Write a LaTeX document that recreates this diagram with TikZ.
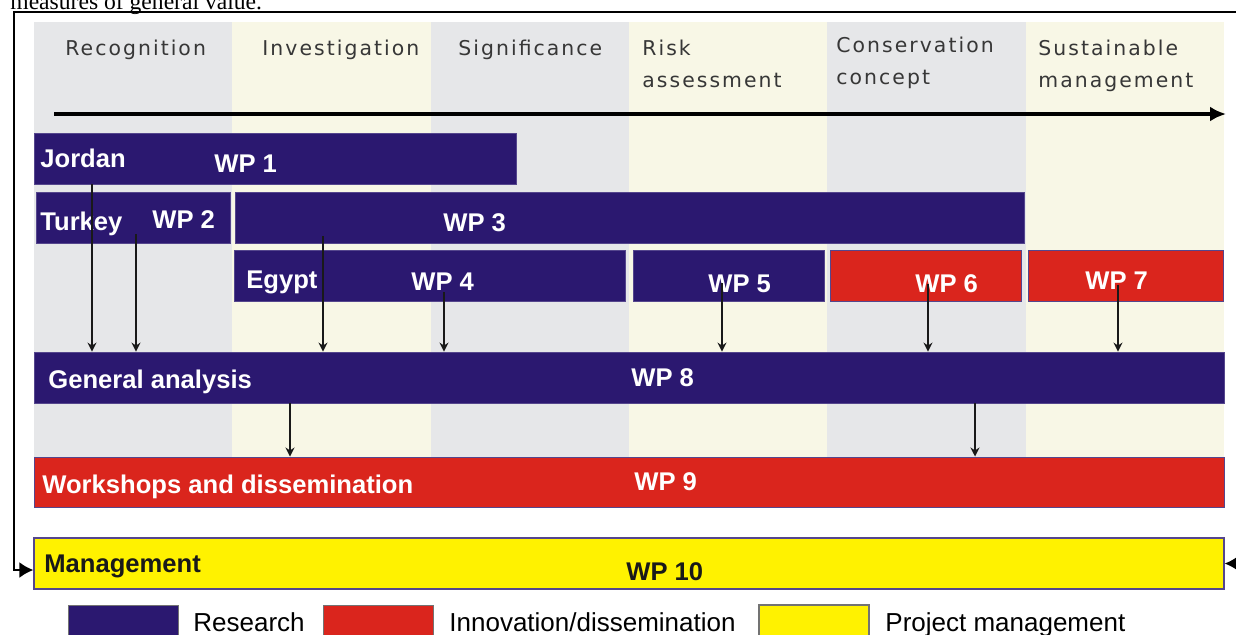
\documentclass[tikz,border=0pt]{standalone}
\usepackage{fontspec}
\setmainfont{Liberation Sans}
\newfontfamily\phasefont[LetterSpace=10]{DejaVu Sans}
\newfontfamily\notefont{Liberation Serif}
\usetikzlibrary{arrows.meta,calc,fit}

\definecolor{wpnavy}{RGB}{43,24,112}
\definecolor{wpred}{RGB}{218,37,29}
\definecolor{wpyellow}{RGB}{255,242,0}
\definecolor{phasegray}{RGB}{230,231,233}
\definecolor{phasecream}{RGB}{248,247,230}
\definecolor{phasetext}{RGB}{55,55,55}

\begin{document}
\begin{tikzpicture}[x=0.5pt,y=-0.5pt,
    research/.style={fill=wpnavy,draw=wpnavy!80!white,line width=0.4pt,inner sep=0pt},
    innovation/.style={fill=wpred,draw=wpnavy!80!white,line width=0.5pt,inner sep=0pt},
    managebar/.style={fill=wpyellow,draw=wpnavy!80!white,line width=0.6pt,inner sep=0pt},
    phase/.style={font=\phasefont\fontsize{10.2}{16}\selectfont,text=phasetext,align=left,inner sep=0pt,anchor=north west},
    tag/.style={font=\bfseries\fontsize{12.8}{15}\selectfont,text=white,inner sep=0pt,anchor=base west},
    legend/.style={font=\fontsize{13}{15}\selectfont,inner sep=0pt,anchor=base west},
    link/.style={draw=black!90,line width=0.7pt,-{Stealth[length=4.5pt,width=4.5pt]}}]

    \useasboundingbox (0,0) rectangle (1236,634);

    % last line of the text above
    \node[font=\notefont\fontsize{11.8}{14}\selectfont,anchor=base west,inner sep=0pt] (note) at (10,9) {measures of general value.};

    % phase columns
    \foreach \i/\c in {0/phasegray,1/phasecream,2/phasegray,3/phasecream,4/phasegray,5/phasecream}
      \fill[\c] ({34+198.33*\i},22) rectangle ({34+198.33*(\i+1)},457);

    % phase names
    \node[phase] (p1) at (65,40) {Recognition};
    \node[phase] (p2) at (262,40) {Investigation};
    \node[phase] (p3) at (458,40) {Significance};
    \node[phase] (p4) at (642,40) {Risk\\assessment};
    \node[phase] (p5) at (836,37) {Conservation\\concept};
    \node[phase] (p6) at (1038,40) {Sustainable\\management};

    % time axis
    \coordinate (tstart) at (54,114);
    \coordinate (tend) at (1226,114);
    \draw[line width=2pt,-{Latex[length=8pt,width=7.5pt]}] (tstart) -- (tend);

    % work packages
    \node[research,fit={(34,133) (516,184)}] (wp1) {};
    \node[research,fit={(36,192) (230,243)}] (wp2) {};
    \node[research,fit={(235,192) (1024,243)}] (wp3) {};
    \node[research,fit={(234,250) (625,301)}] (wp4) {};
    \node[research,fit={(633,250) (824,301)}] (wp5) {};
    \node[innovation,fit={(830,250) (1021,301)}] (wp6) {};
    \node[innovation,fit={(1028,250) (1223,301)}] (wp7) {};
    \node[research,fit={(34,352) (1224,403)}] (wp8) {};
    \node[innovation,fit={(34,457) (1224,507)}] (wp9) {};
    \node[managebar,fit={(34,538) (1224,589)}] (wp10) {};

    % names on the bars
    \node[tag] (jordan) at (40,167) {Jordan};
    \node[tag] (wp1t) at (214,172) {WP 1};
    \node[tag] (turkey) at (40,230) {Turkey};
    \node[tag] (wp2t) at (152,228) {WP 2};
    \node[tag] (wp3t) at (443,231) {WP 3};
    \node[tag] (egypt) at (246,288) {Egypt};
    \node[tag] (wp4t) at (411,290) {WP 4};
    \node[tag] (wp5t) at (708,292) {WP 5};
    \node[tag] (wp6t) at (915,292) {WP 6};
    \node[tag] (wp7t) at (1085,289) {WP 7};
    \node[tag] (general) at (48,388) {General analysis};
    \node[tag] (wp8t) at (631,386) {WP 8};
    \node[tag] (workshops) at (42,493) {Workshops and dissemination};
    \node[tag] (wp9t) at (634,490) {WP 9};
    \node[tag,text=black!90] (management) at (44,572) {Management};
    \node[tag,text=black!90] (wp10t) at (626,580) {WP 10};

    % results going into the general analysis
    \foreach \n/\x/\d in {wp1/92/0,wp2/136/9,wp3/323/7,wp4/444/9,wp5/722/18,wp6/928/18,wp7/1118/17}
      \draw[link] ($(\n.south -| \x,0)+(0,-\d)$) -- (wp8.north -| \x,0);
    \draw[link] (wp8.south -| 290,0) -- (wp9.north -| 290,0);
    \draw[link] (wp8.south -| 975,0) -- (wp9.north -| 975,0);

    % management frame round everything
    \draw[line width=1.1pt,{Latex[length=7pt,width=8pt]}-{Latex[length=7pt,width=8pt]}]
      (wp10.east) -- (wp10.east -| 1250,0) |- (14,12) -- (14,570) -- (wp10.west |- 0,570);

    % key
    \node[research,draw=black!55,fit={(68,605) (178,640)}] (keyres) {};
    \node[legend] (keyrestext) at (193,631) {Research};
    \node[innovation,draw=black!55,fit={(323,605) (433,640)}] (keyinno) {};
    \node[legend] (keyinnotext) at (449,631) {Innovation/dissemination};
    \node[managebar,draw=black!55,fit={(759,605) (869,640)}] (keyman) {};
    \node[legend] (keymantext) at (885,631) {Project management};
\end{tikzpicture}
\end{document}
